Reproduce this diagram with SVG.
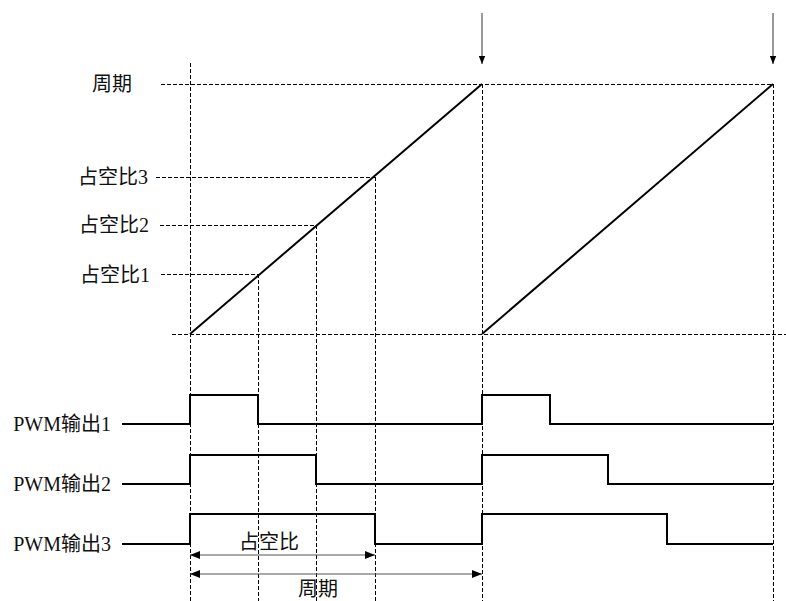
<svg xmlns="http://www.w3.org/2000/svg" width="786" height="601" viewBox="0 0 786 601">
<style>
.t{font-family:"Liberation Serif","Noto Sans CJK SC",serif;font-size:20px;fill:#111}
.d{stroke:#000;stroke-width:1;stroke-dasharray:4 2;fill:none}
.s{stroke:#000;stroke-width:2;fill:none}
.a{stroke:#555;stroke-width:1.2;fill:none}
</style>
<defs>
<marker id="ah" viewBox="0 0 10 10" refX="10" refY="5" markerWidth="10" markerHeight="10" markerUnits="userSpaceOnUse" orient="auto-start-reverse">
<path d="M0,1 L10,5 L0,9 Z" fill="#000"/>
</marker>
<marker id="ahs" viewBox="0 0 10 10" refX="10" refY="5" markerWidth="8" markerHeight="8" markerUnits="userSpaceOnUse" orient="auto">
<path d="M0,1 L10,5 L0,9 Z" fill="#000"/>
</marker>
</defs>
<rect width="786" height="601" fill="#fff"/>
<g id="grid">
<line class="d" x1="161" y1="84.5" x2="773" y2="84.5"/>
<line class="d" x1="156" y1="177.5" x2="375" y2="177.5"/>
<line class="d" x1="160" y1="225.5" x2="316" y2="225.5"/>
<line class="d" x1="161" y1="274.5" x2="258" y2="274.5"/>
<line class="d" x1="172" y1="334.5" x2="786" y2="334.5"/>
<line class="d" x1="190.5" y1="63" x2="190.5" y2="601"/>
<line class="d" x1="258.5" y1="274" x2="258.5" y2="601"/>
<line class="d" x1="316.5" y1="225" x2="316.5" y2="601"/>
<line class="d" x1="375.5" y1="177" x2="375.5" y2="601"/>
<line class="d" x1="482.5" y1="84" x2="482.5" y2="601"/>
<line class="d" x1="773.5" y1="84" x2="773.5" y2="601"/>
</g>
<g id="ramp">
<polyline class="s" points="190,334 482,84"/>
<polyline class="s" points="482,334 773,84"/>
</g>
<g id="connectors">
<line class="a" x1="482" y1="13" x2="482" y2="64" marker-end="url(#ahs)"/>
<line class="a" x1="773" y1="13" x2="773" y2="64" marker-end="url(#ahs)"/>
<line class="a" x1="190" y1="555" x2="375" y2="555" marker-start="url(#ah)" marker-end="url(#ah)"/>
<line class="a" x1="190" y1="574" x2="482" y2="574" marker-start="url(#ah)" marker-end="url(#ah)"/>
</g>
<g id="pwm1"><polyline class="s" points="122,424 190,424 190,395 258,395 258,424 482,424 482,395 550,395 550,424 773,424"/>
<text class="t" x="111" y="431" text-anchor="end">PWM输出1</text></g>
<g id="pwm2"><polyline class="s" points="122,484 190,484 190,455 316,455 316,484 482,484 482,455 608,455 608,484 773,484"/>
<text class="t" x="111" y="491" text-anchor="end">PWM输出2</text></g>
<g id="pwm3"><polyline class="s" points="122,544 190,544 190,514 375,514 375,544 482,544 482,514 667,514 667,544 773,544"/>
<text class="t" x="111" y="551" text-anchor="end">PWM输出3</text></g>
<g id="labels">
<text class="t" x="92" y="91">周期</text>
<text class="t" x="78" y="184">占空比3</text>
<text class="t" x="79" y="232">占空比2</text>
<text class="t" x="80" y="282">占空比1</text>
<text class="t" x="269" y="549" text-anchor="middle" fill="#333">占空比</text>
<text class="t" x="318" y="596" text-anchor="middle" fill="#333">周期</text>
</g>
</svg>
